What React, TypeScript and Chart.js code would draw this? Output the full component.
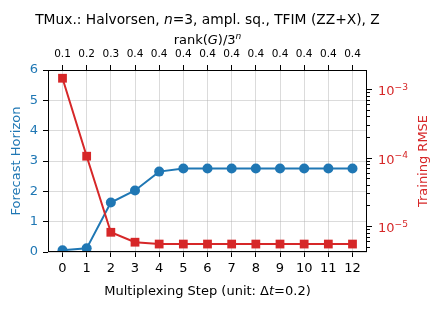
import React, { useEffect, useRef } from "react";
import { Chart, registerables } from "chart.js";

Chart.register(...registerables);

const steps = [0, 1, 2, 3, 4, 5, 6, 7, 8, 9, 10, 11, 12];
const forecastHorizon = [0.06, 0.12, 1.63, 2.03, 2.65, 2.75, 2.75, 2.75, 2.75, 2.75, 2.75, 2.75, 2.75];
const trainingRmse = [1.45e-3, 1.05e-4, 8.1e-6, 5.8e-6, 5.45e-6, 5.45e-6, 5.45e-6, 5.45e-6, 5.45e-6, 5.45e-6, 5.45e-6, 5.45e-6, 5.45e-6];
const rankLabels = ["0.1", "0.2", "0.3", "0.4", "0.4", "0.4", "0.4", "0.4", "0.4", "0.4", "0.4", "0.4", "0.4"];
const leftTicks = [0, 1, 2, 3, 4, 5, 6];
const rightMajorExps = [-3, -4, -5];

const BLUE = "#1f77b4";
const RED = "#d62728";
const FONT = "DejaVu Sans";

type Seg = { t: string; it?: boolean; sup?: boolean };

function richWidth(ctx: CanvasRenderingContext2D, segs: Seg[], size: number) {
  let w = 0;
  for (const s of segs) {
    const sz = s.sup ? size * 0.7 : size;
    ctx.font = `${s.it ? "italic " : ""}${sz}px "${FONT}"`;
    w += ctx.measureText(s.t).width;
  }
  return w;
}

function drawRich(ctx: CanvasRenderingContext2D, segs: Seg[], x: number, y: number, size: number, align: "center" | "left", color: string) {
  const w = richWidth(ctx, segs, size);
  let cx = align === "center" ? x - w / 2 : x;
  ctx.fillStyle = color;
  ctx.textAlign = "left";
  ctx.textBaseline = "alphabetic";
  for (const s of segs) {
    const sz = s.sup ? size * 0.7 : size;
    ctx.font = `${s.it ? "italic " : ""}${sz}px "${FONT}"`;
    ctx.fillText(s.t, cx, s.sup ? y - size * 0.42 : y);
    cx += ctx.measureText(s.t).width;
  }
}

const decorPlugin = {
  id: "decor",
  afterDraw(chart: any) {
    const { ctx, chartArea: ca, scales } = chart;
    const y2 = scales.y2;
    ctx.save();
    // spines
    ctx.strokeStyle = "#000";
    ctx.lineWidth = 1;
    ctx.strokeRect(Math.round(ca.left) + 0.5, Math.round(ca.top) + 0.5, Math.round(ca.right - ca.left) - 1, Math.round(ca.bottom - ca.top) - 1);
    // right log ticks
    for (let e = -7; e <= -1; e++) {
      for (let m = 1; m <= 9; m++) {
        const v = m * Math.pow(10, e);
        if (v < y2.min || v > y2.max) continue;
        const py = Math.round(y2.getPixelForValue(v)) + 0.5;
        const len = m === 1 ? 5 : 3;
        ctx.beginPath();
        ctx.moveTo(ca.right, py);
        ctx.lineTo(ca.right + len, py);
        ctx.stroke();
      }
    }
    // right labels
    for (const e of rightMajorExps) {
      const py = y2.getPixelForValue(Math.pow(10, e));
      drawRich(ctx, [{ t: "10" }, { t: "\u2212" + Math.abs(e), sup: true }], ca.right + 11, py + 6, 13, "left", RED);
    }
    const cxPlot = (ca.left + ca.right) / 2;
    // main title
    drawRich(ctx, [{ t: "TMux.: Halvorsen, " }, { t: "n", it: true }, { t: "=3, ampl. sq., TFIM (ZZ+X), Z" }], cxPlot, 24, 13.8, "center", "#000");
    // top axis title
    drawRich(ctx, [{ t: "rank(" }, { t: "G", it: true }, { t: ")/3" }, { t: "n", it: true, sup: true }], cxPlot, 44, 13, "center", "#000");
    // bottom title
    drawRich(ctx, [{ t: "Multiplexing Step (unit: \u0394" }, { t: "t", it: true }, { t: "=0.2)" }], cxPlot, 295, 13, "center", "#000");
    // left y title
    const cyPlot = (ca.top + ca.bottom) / 2;
    ctx.save();
    ctx.translate(20, cyPlot);
    ctx.rotate(-Math.PI / 2);
    drawRich(ctx, [{ t: "Forecast Horizon" }], 0, 0, 13, "center", BLUE);
    ctx.restore();
    ctx.save();
    ctx.translate(427, cyPlot);
    ctx.rotate(-Math.PI / 2);
    drawRich(ctx, [{ t: "Training RMSE" }], 0, 0, 13, "center", RED);
    ctx.restore();
    ctx.restore();
  },
};

export default function App() {
  const ref = useRef<HTMLCanvasElement | null>(null);
  useEffect(() => {
    if (!ref.current) return;
    const gridColor = "rgba(176,176,176,0.45)";
    const chart = new Chart(ref.current, {
      type: "line",
      data: {
        datasets: [
          {
            label: "Forecast Horizon",
            data: steps.map((s, i) => ({ x: s, y: forecastHorizon[i] })),
            borderColor: BLUE,
            backgroundColor: BLUE,
            borderWidth: 2,
            pointStyle: "circle",
            pointRadius: 5,
            pointBorderWidth: 0,
            yAxisID: "y",
            xAxisID: "x",
            order: 2,
          },
          {
            label: "Training RMSE",
            data: steps.map((s, i) => ({ x: s, y: trainingRmse[i] })),
            borderColor: RED,
            backgroundColor: RED,
            borderWidth: 2,
            pointStyle: "rect",
            pointRadius: 6.2,
            pointBorderWidth: 0,
            yAxisID: "y2",
            xAxisID: "x",
            order: 1,
          },
        ],
      },
      options: {
        responsive: false,
        animation: false,
        events: [],
        layout: { padding: 0 },
        plugins: { legend: { display: false }, title: { display: false }, tooltip: { enabled: false } },
        scales: {
          x: {
            type: "linear",
            position: "bottom",
            min: -0.6,
            max: 12.6,
            afterBuildTicks: (s: any) => { s.ticks = steps.map((v) => ({ value: v })); },
            afterFit: (s: any) => { s.height = 58; },
            grid: { color: gridColor, lineWidth: 1, tickColor: "#000", tickLength: 5 },
            border: { display: false },
            ticks: { color: "#000", font: { family: FONT, size: 13 }, padding: 4, maxRotation: 0, autoSkip: false, callback: (v: any) => String(v) },
          },
          x2: {
            type: "linear",
            position: "top",
            min: -0.6,
            max: 12.6,
            afterBuildTicks: (s: any) => { s.ticks = steps.map((v) => ({ value: v })); },
            afterFit: (s: any) => { s.height = 70; },
            grid: { drawOnChartArea: false, color: "#000", tickColor: "#000", tickLength: 5 },
            border: { display: false },
            ticks: { color: "#000", font: { family: FONT, size: 10.5 }, padding: 4, maxRotation: 0, autoSkip: false, callback: (_v: any, i: number) => rankLabels[i] },
          },
          y: {
            type: "linear",
            position: "left",
            min: 0,
            max: 6,
            afterBuildTicks: (s: any) => { s.ticks = leftTicks.map((v) => ({ value: v })); },
            afterFit: (s: any) => { s.width = 48; },
            grid: { color: gridColor, lineWidth: 1, tickColor: "#000", tickLength: 5 },
            border: { display: false },
            ticks: { color: BLUE, font: { family: FONT, size: 13 }, padding: 5, callback: (v: any) => String(v) },
          },
          y2: {
            type: "logarithmic",
            position: "right",
            min: 4.17e-6,
            max: 1.914e-3,
            afterFit: (s: any) => { s.width = 73; },
            grid: { display: false },
            border: { display: false },
            ticks: { display: false },
          },
        },
      },
      plugins: [decorPlugin],
    } as any);
    return () => chart.destroy();
  }, []);
  return (
    <div style={{ position: "absolute", left: 0, top: 0, width: 440, height: 310, background: "#fff" }}>
      <canvas ref={ref} width={440} height={310} style={{ display: "block" }} />
    </div>
  );
}
